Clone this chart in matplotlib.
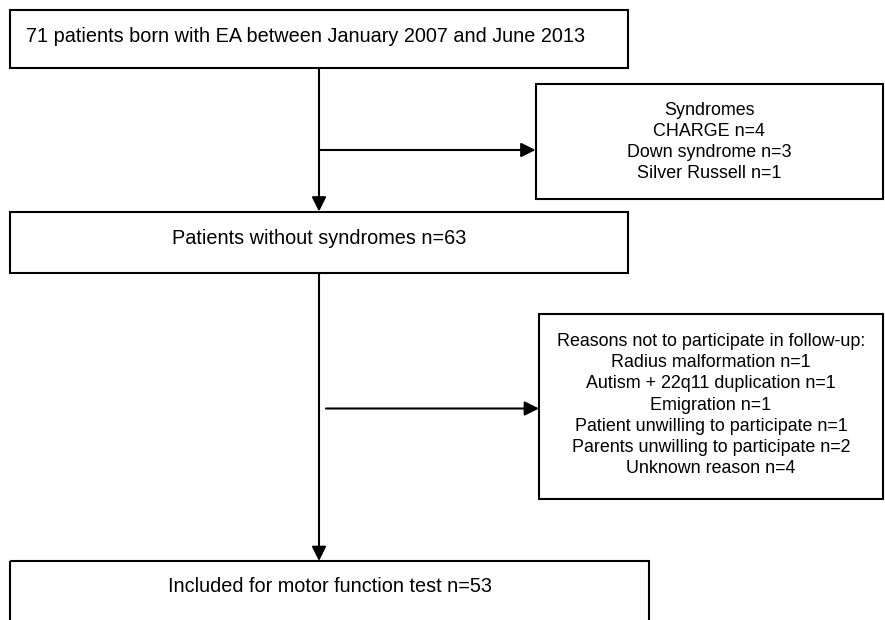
import matplotlib.pyplot as plt
from matplotlib.patches import Rectangle

plt.rcParams['font.family'] = ['Liberation Sans', 'DejaVu Sans']

# flowchart texts
top_text = "71 patients born with EA between January 2007 and June 2013"
syndrome_lines = ["Syndromes", "CHARGE n=4", "Down syndrome n=3", "Silver Russell n=1"]
middle_text = "Patients without syndromes n=63"
reason_lines = [
    "Reasons not to participate in follow-up:",
    "Radius malformation n=1",
    "Autism + 22q11 duplication n=1",
    "Emigration n=1",
    "Patient unwilling to participate n=1",
    "Parents unwilling to participate n=2",
    "Unknown reason n=4",
]
bottom_text = "Included for motor function test n=53"

# box geometry in pixel units (x0, y0, x1, y1), y going down
box_top = (10, 10, 628, 68)
box_synd = (535.5, 84, 883, 199)
box_mid = (10, 211.5, 628, 273)
box_reason = (539, 314, 883, 499)
box_bottom = (10, 561, 649, 650)

main_fs = 14.3
side_fs = 12.9
lw = 1.5
spine_x = 319

fig = plt.figure(figsize=(8.85, 6.2), dpi=100)
ax = fig.add_axes([0, 0, 1, 1])
ax.set_xlim(0, 885)
ax.set_ylim(620, 0)
ax.axis('off')


def draw_box(b):
    x0, y0, x1, y1 = b
    ax.add_patch(Rectangle((x0, y0), x1 - x0, y1 - y0, fill=False,
                           ec='black', lw=lw, clip_on=True))


def arrow(x0, y0, x1, y1):
    ax.annotate('', xy=(x1, y1), xytext=(x0, y0),
                arrowprops=dict(arrowstyle='-|>,head_length=0.4,head_width=0.2',
                                mutation_scale=21.6, lw=lw, color='black',
                                shrinkA=0, shrinkB=0))


for b in [box_top, box_synd, box_mid, box_reason, box_bottom]:
    draw_box(b)

# arrows
arrow(spine_x, box_top[3], spine_x, box_mid[1])
arrow(spine_x, 150, box_synd[0], 150)
arrow(spine_x, box_mid[3], spine_x, box_bottom[1])
arrow(326, 408.5, box_reason[0], 408.5)

# texts
ax.text(26, 37, top_text, fontsize=main_fs, ha='left', va='center')
ax.text((box_synd[0] + box_synd[2]) / 2, 142, "\n".join(syndrome_lines),
        fontsize=side_fs, ha='center', va='center', multialignment='center',
        linespacing=1.32)
ax.text((box_mid[0] + box_mid[2]) / 2, 239, middle_text,
        fontsize=main_fs, ha='center', va='center')
ax.text((box_reason[0] + box_reason[2]) / 2, 405, "\n".join(reason_lines),
        fontsize=side_fs, ha='center', va='center', multialignment='center',
        linespacing=1.32)
ax.text((box_bottom[0] + box_bottom[2]) / 2, 587, bottom_text,
        fontsize=main_fs, ha='center', va='center')

fig.savefig('out.png', dpi=100)
